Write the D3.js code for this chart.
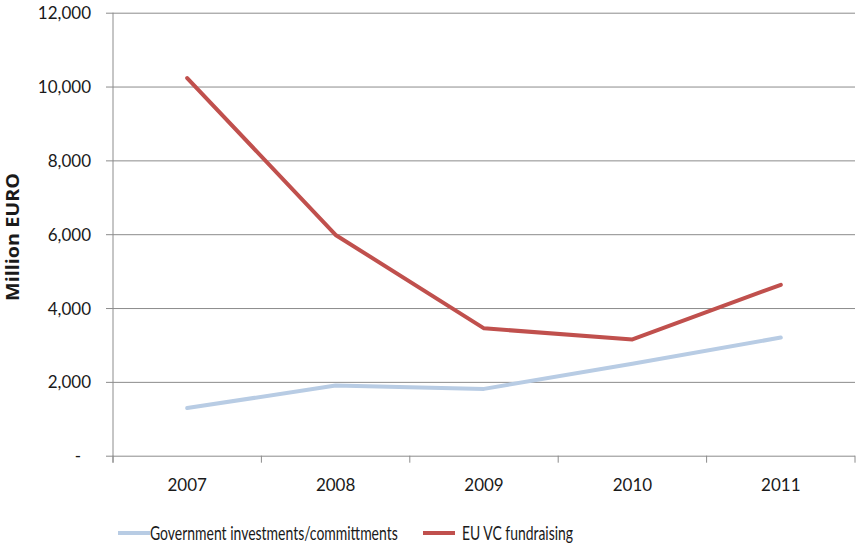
<!DOCTYPE html>
<html>
<head>
<meta charset="utf-8">
<script src="https://cdn.jsdelivr.net/npm/d3@7"></script>
<style>
  html, body { margin: 0; padding: 0; background: #fff; }
  svg { display: block; }
  text { font-family: Lato, "Open Sans", sans-serif; fill: #1a1a1a; }
</style>
</head>
<body>
<svg id="chart" width="856" height="544"></svg>
<script>
const years = ["2007", "2008", "2009", "2010", "2011"];
const govValues = [1290, 1900, 1810, 2490, 3200];
const vcValues = [10230, 5980, 3450, 3150, 4630];
const yTicks = [0, 2000, 4000, 6000, 8000, 10000, 12000];
const seriesNames = ["Government investments/committments", "EU VC fundraising"];
const seriesColors = ["#b8cce4", "#c0504d"];

(function () {
const svg = d3.select("#chart");
const mLeft = 113, mRight = 855, mTop = 12.7, mBottom = 455.7;

const x = d3.scaleBand().domain(years).range([mLeft, mRight]).padding(0);
const y = d3.scaleLinear().domain([0, 12000]).range([mBottom, mTop]);

// gridlines + y axis ticks
const yAxis = d3.axisLeft(y).tickValues(yTicks)
  .tickSize(-(mRight - mLeft))
  .tickFormat(d => d === 0 ? "-" : d3.format(",")(d))
  .tickPadding(14);
const gy = svg.append("g").attr("transform", `translate(${mLeft},0)`).call(yAxis);
gy.select(".domain").remove();
gy.selectAll(".tick line").attr("stroke", "#8c8c8c").attr("stroke-width", 1)
  .attr("x1", -7).attr("x2", mRight - mLeft);
gy.selectAll(".tick text").attr("font-size", "17px").attr("fill", "#222")
  .attr("x", -22).attr("dy", "0.36em");
gy.selectAll(".tick").filter(d => d === 0).select("text").attr("x", -32);

// y axis line
svg.append("line").attr("x1", mLeft).attr("x2", mLeft).attr("y1", mTop).attr("y2", mBottom + 7)
  .attr("stroke", "#8c8c8c");

// x axis
const xAxis = d3.axisBottom(x).tickSize(0).tickPadding(23);
const gx = svg.append("g").attr("transform", `translate(0,${mBottom})`).call(xAxis);
gx.select(".domain").remove();
gx.selectAll(".tick text").attr("font-size", "17px").attr("fill", "#222");
// category boundary ticks
const bounds = years.map(d => x(d)).concat([x(years[years.length - 1]) + x.bandwidth()]);
svg.append("g").selectAll("line").data(bounds).join("line")
  .attr("x1", d => d).attr("x2", d => d)
  .attr("y1", mBottom).attr("y2", mBottom + 7)
  .attr("stroke", "#8c8c8c");

// y title
const yt = svg.append("g").attr("transform", `translate(19,237) rotate(-90)`);
const ytText = yt.append("text")
  .attr("text-anchor", "middle")
  .style("font-family", "'Open Sans', sans-serif")
  .attr("font-size", "17px").attr("font-weight", "bold").attr("fill", "#000")
  .text("Million EURO");
const ytw = ytText.node().getComputedTextLength();
ytText.attr("transform", `scale(${128 / ytw},1)`);

// lines
const line = d3.line().x((d, i) => x(years[i]) + x.bandwidth() / 2).y(d => y(d));
[govValues, vcValues].forEach((vals, i) => {
  svg.append("path").datum(vals)
    .attr("d", line)
    .attr("fill", "none")
    .attr("stroke", seriesColors[i])
    .attr("stroke-width", 4)
    .attr("stroke-linejoin", "round")
    .attr("stroke-linecap", "round");
});

// legend
const legendItems = [{x: 118, tx: 150, w: 248}, {x: 423, tx: 462, w: 111}];
legendItems.forEach((p, i) => {
  svg.append("line").attr("x1", p.x).attr("x2", p.x + 32).attr("y1", 533).attr("y2", 533)
    .attr("stroke", seriesColors[i]).attr("stroke-width", 4);
  const t = svg.append("text").attr("dy", "0.36em")
    .attr("font-size", "18.5px").attr("fill", "#1a1a1a")
    .text(seriesNames[i]);
  const nw = t.node().getComputedTextLength();
  t.attr("transform", `translate(${p.tx},533) scale(${p.w / nw},1)`);
});
})();
</script>
</body>
</html>
